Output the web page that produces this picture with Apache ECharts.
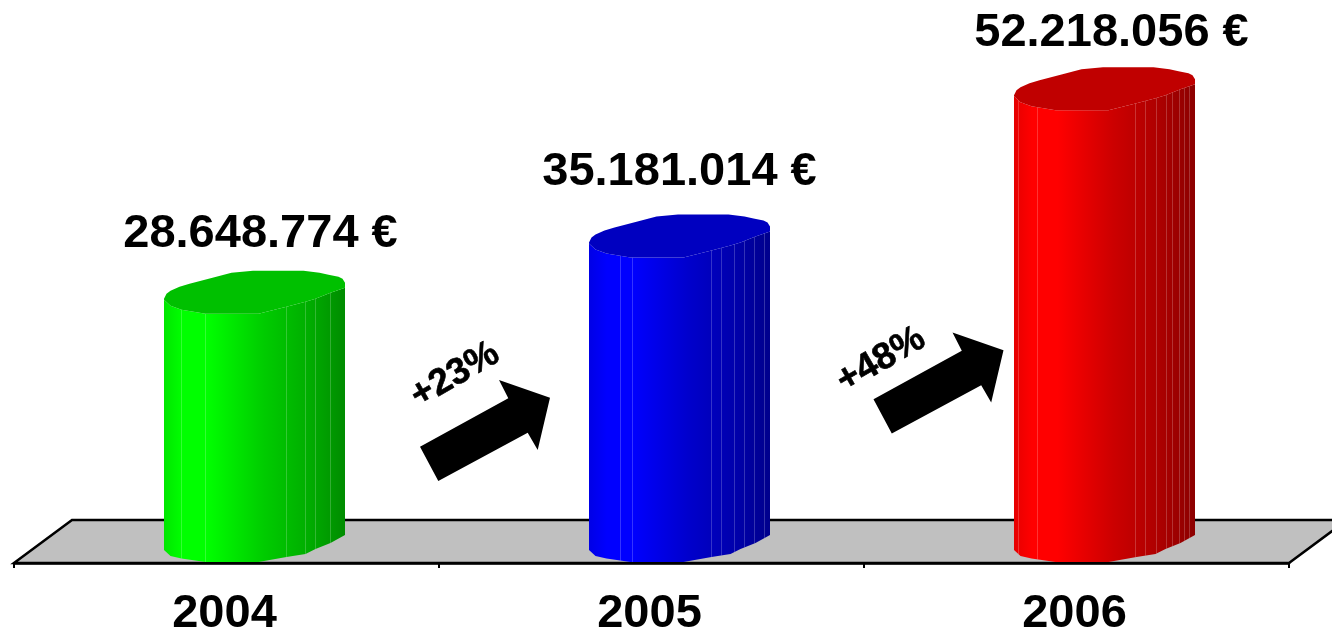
<!DOCTYPE html>
<html>
<head>
<meta charset="utf-8">
<style>
html, body { margin: 0; padding: 0; background: #fff; }
#main { width: 1332px; height: 630px; }
</style>
<script src="https://cdn.jsdelivr.net/npm/echarts@6/dist/echarts.min.js"></script>
</head>
<body>
<div id="main"></div>
<script>
// data
var years = ['2004', '2005', '2006'];
var turnover = [28648774, 35181014, 52218056];
var growthLabels = ['+23%', '+48%'];

// look of each column: red, green, blue share of the side colour
var channels = [[0, 1, 0], [0, 0, 1], [1, 0, 0]];
var topColors = ['#00c000', '#0000c0', '#c00000'];
// value labels are not exactly centred on their columns
var labelDx = [6, 0, 7];
var labelDy = [-60, -65, -57];

var FONT = '"Liberation Sans", Arial, sans-serif';
var DEPTH_X = 28; // columns stand in the middle of the floor, not on the axis

// column outline, relative to the column centre / value height
var lowerEdgeX = [-90.5, -84, -73, -49, 4, 32, 51, 61, 76, 90.5];
var topLowerY = [6, 12, 16, 20, 20, 13, 8, 5, -1, -6];
var baseLowerY = [9, 15, 17.5, 21, 21, 16, 13, 8, 2, -6];
var topUpper = [[90.5, -11], [88, -15], [84, -17], [74, -19], [65, -21], [49, -23], [-1.5, -23], [-23, -21], [-42, -16], [-65, -10], [-75, -7], [-84, -3], [-88, 0], [-90.5, 5]];
var slats = [
    [-73, -49, 32, 51, 61, 76],
    [-59, -47, 32, 42, 55, 65, 75, 85],
    [-86, -67, 31, 41, 52, 62, 68, 75, 80, 85]
];
var sideStops = [[0, 0.9], [0.1, 1], [0.24, 1], [0.55, 0.8], [0.8, 0.68], [1, 0.55]];

function shade(ch, k) {
    return 'rgb(' + ch.map(function (c) { return Math.round(c * k * 255); }).join(',') + ')';
}

function edgeY(arr, x) {
    for (var i = 0; i < lowerEdgeX.length - 1; i++) {
        if (x <= lowerEdgeX[i + 1]) {
            var t = (x - lowerEdgeX[i]) / (lowerEdgeX[i + 1] - lowerEdgeX[i]);
            return arr[i] + (arr[i + 1] - arr[i]) * t;
        }
    }
    return arr[arr.length - 1];
}

function drawColumn(params, api) {
    var i = params.dataIndex;
    var top = api.coord([i, api.value(1)]);
    var base = api.coord([i, 0]);
    var cx = top[0] + DEPTH_X;
    var ch = channels[i];

    var side = [];
    lowerEdgeX.forEach(function (x, k) { side.push([cx + x, top[1] + topLowerY[k]]); });
    for (var k = lowerEdgeX.length - 1; k >= 0; k--) {
        side.push([cx + lowerEdgeX[k], base[1] + baseLowerY[k]]);
    }
    var lid = [];
    lowerEdgeX.forEach(function (x, k) { lid.push([cx + x, top[1] + topLowerY[k]]); });
    topUpper.forEach(function (p) { lid.push([cx + p[0], top[1] + p[1]]); });

    var children = [{
        type: 'polygon',
        shape: { points: side },
        style: {
            fill: new echarts.graphic.LinearGradient(0, 0, 1, 0, sideStops.map(function (s) {
                return { offset: s[0], color: shade(ch, s[1]) };
            }))
        }
    }];
    slats[i].forEach(function (x) {
        children.push({
            type: 'line',
            shape: {
                x1: cx + x, y1: top[1] + edgeY(topLowerY, x),
                x2: cx + x, y2: base[1] + edgeY(baseLowerY, x)
            },
            style: { stroke: 'rgba(255,255,255,0.2)', lineWidth: 1 }
        });
    });
    children.push({
        type: 'polygon',
        shape: { points: lid },
        style: { fill: topColors[i] }
    });
    children.push({
        type: 'text',
        x: cx + labelDx[i],
        y: top[1] + labelDy[i],
        style: {
            text: String(api.value(1)).replace(/\B(?=(\d{3})+$)/g, '.') + ' €',
            font: 'bold 47px ' + FONT,
            fill: '#000',
            align: 'center',
            verticalAlign: 'middle'
        }
    });
    return { type: 'group', children: children };
}

function arrow(dx, dy) {
    return {
        type: 'polygon',
        z: 5,
        shape: {
            points: [[420, 446.7], [438.3, 481], [527.7, 432.7], [537.7, 450], [550, 397.7], [499, 380], [508.3, 398.3]]
                .map(function (p) { return [p[0] + dx, p[1] + dy]; })
        },
        style: { fill: '#000' }
    };
}

function growthText(text, x, y) {
    return {
        type: 'text',
        z: 5,
        x: x,
        y: y,
        rotation: Math.PI / 6,
        style: {
            text: text,
            font: 'bold 37px ' + FONT,
            fill: '#000',
            stroke: '#000',
            lineWidth: 0.6,
            align: 'center',
            verticalAlign: 'middle'
        }
    };
}

var chart = echarts.init(document.getElementById('main'));
chart.setOption({
    animation: false,
    backgroundColor: '#fff',
    grid: { left: 14, top: 0, width: 1275, height: 563, outerBoundsMode: 'none' },
    xAxis: {
        type: 'category',
        data: years,
        axisLine: { onZero: false, lineStyle: { color: '#000', width: 2.5 } },
        axisTick: { show: true, length: 5, lineStyle: { color: '#000', width: 2 } },
        axisLabel: { color: '#000', fontFamily: FONT, fontWeight: 'bold', fontSize: 47, margin: 28, padding: [0, 4, 0, 0] }
    },
    yAxis: { type: 'value', show: false, min: -2550000, max: 62690000 },
    graphic: [
        {
            type: 'polygon',
            z: -1,
            shape: { points: [[14, 563], [72, 520], [1347, 520], [1289, 563]] },
            style: { fill: '#c0c0c0', stroke: '#000', lineWidth: 2.5 }
        },
        arrow(0, 0),
        arrow(453.5, -47.5),
        growthText(growthLabels[0], 455, 375),
        growthText(growthLabels[1], 881, 360)
    ],
    series: [{
        type: 'custom',
        renderItem: drawColumn,
        encode: { x: 0, y: 1 },
        clip: false,
        data: turnover.map(function (v, i) { return [i, v]; })
    }]
});
window.addEventListener('resize', function () {
    chart.resize();
});
</script>
</body>
</html>
